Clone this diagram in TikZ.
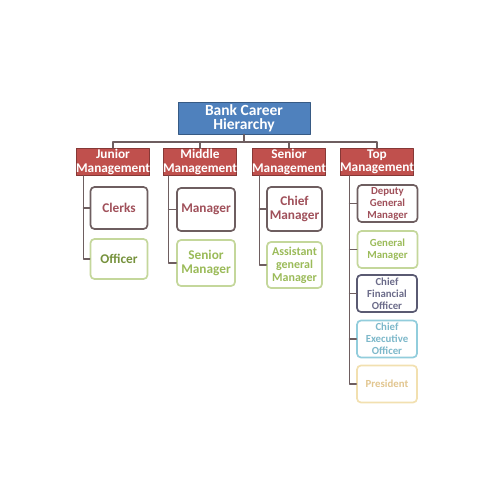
\documentclass[tikz,border=0pt]{standalone}
\usepackage{fontspec}
\setmainfont{Carlito}
\definecolor{headblue}{HTML}{4F81BD}
\definecolor{headred}{HTML}{C0504D}
\definecolor{linkgray}{HTML}{6E5E60}
\definecolor{rosetext}{HTML}{A0505A}
\definecolor{leafgreen}{HTML}{C4D79B}
\definecolor{olivetext}{HTML}{76923C}
\definecolor{lighttext}{HTML}{9BBB59}
\definecolor{slateline}{HTML}{5A5A72}
\definecolor{slatetext}{HTML}{6C6C8A}
\definecolor{tealline}{HTML}{92CDDC}
\definecolor{tealtext}{HTML}{7DB8CA}
\definecolor{tanline}{HTML}{F2E0B0}
\definecolor{tantext}{HTML}{E2C690}
\begin{document}
\begin{tikzpicture}[x=1pt, y=-1pt, line join=round, line cap=round,
	font=\bfseries,
	link/.style={draw=linkgray, line width=1.6pt},
	headbox/.style={fill=headblue, draw=headblue!70!black, line width=1pt, text=white, align=center, inner sep=0pt, minimum width=132pt, minimum height=31pt, font=\fontsize{15.5}{14.5}\selectfont\bfseries},
	groupbox/.style={fill=headred, draw=headred!70!black, line width=1pt, text=white, align=center, inner sep=0pt, minimum width=73pt, minimum height=27pt, font=\fontsize{13.3}{13.5}\selectfont\bfseries},
	leaf/.style={fill=white, draw=#1, rounded corners=4pt, line width=1.7pt, align=center, inner sep=0pt, minimum width=57pt, minimum height=42pt, font=\fontsize{13.3}{14}\selectfont\bfseries},
	smallleaf/.style={leaf=#1, minimum width=60pt, minimum height=37pt, font=\fontsize{10.8}{12}\selectfont\bfseries}]
	\fill[white] (0,0) rectangle (500,500);
	\useasboundingbox (0,0) rectangle (500,500);
	% heading and groups
	\node[headbox] (bank) at (244,118.5) {Bank Career\\Hierarchy};
	\node[groupbox] (junior) at (113,162) {Junior\\Management};
	\node[groupbox] (middle) at (200,162) {Middle\\Management};
	\node[groupbox] (senior) at (289,162) {Senior\\Management};
	\node[groupbox] (top) at (377,162) {Top\\Management};
	\coordinate (bus) at (244,142);
	\draw[link] (bank.south) -- (bus);
	\draw[link] (junior.north) |- (bus) -| (top.north);
	\draw[link] (middle.north) -- (middle.north |- bus);
	\draw[link] (senior.north) -- (senior.north |- bus);
	% junior
	\node[leaf=linkgray, text=rosetext] (clerks) at (119,208) {Clerks};
	\node[leaf=leafgreen, minimum height=40pt, text=olivetext] (officer) at (119,259) {Officer};
	\coordinate (jt) at ([xshift=8pt]junior.south west);
	\draw[link] (jt) |- (officer.west);
	\draw[link] (clerks.west) -- (clerks.west -| jt);
	% middle
	\node[leaf=linkgray, text=rosetext, minimum width=58pt, minimum height=43pt] (manager) at (206,209.5) {Manager};
	\node[leaf=leafgreen, text=lighttext, minimum width=58pt, minimum height=46pt] (srmanager) at (206,263) {Senior\\Manager};
	\coordinate (mt) at ([xshift=6pt]middle.south west);
	\draw[link] (mt) |- (srmanager.west);
	\draw[link] (manager.west) -- (manager.west -| mt);
	% senior
	\node[leaf=linkgray, text=rosetext, minimum width=55pt, minimum height=44pt] (chiefmgr) at (294.5,209) {Chief\\Manager};
	\node[leaf=leafgreen, text=lighttext, minimum width=55pt, minimum height=46pt, font=\fontsize{12}{13}\selectfont\bfseries] (asstgm) at (294.5,265) {Assistant\\general\\Manager};
	\coordinate (st) at ([xshift=8pt]senior.south west);
	\draw[link] (st) |- (asstgm.west);
	\draw[link] (chiefmgr.west) -- (chiefmgr.west -| st);
	% top
	\node[smallleaf=linkgray, text=rosetext] (deputy) at (387.5,203.5) {Deputy\\General\\Manager};
	\node[smallleaf=leafgreen, text=lighttext] (gm) at (387.5,249.5) {General\\Manager};
	\node[smallleaf=slateline, text=slatetext] (cfo) at (387,293.5) {Chief\\Financial\\Officer};
	\node[smallleaf=tealline, text=tealtext] (ceo) at (387,339) {Chief\\Executive\\Officer};
	\node[smallleaf=tanline, text=tantext] (president) at (387,384) {President};
	\coordinate (tt) at ([xshift=10pt]top.south west);
	\draw[link] (tt) |- (president.west);
	\foreach \n in {deputy,gm,cfo,ceo}
		\draw[link] (\n.west) -- (\n.west -| tt);
\end{tikzpicture}
\end{document}
